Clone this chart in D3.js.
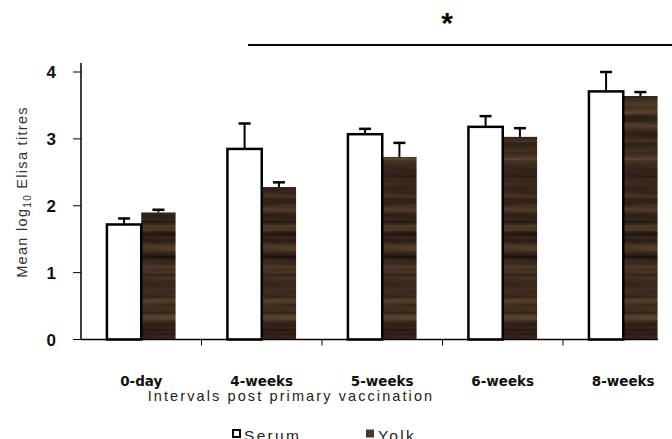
<!DOCTYPE html>
<html><head><meta charset="utf-8">
<script src="https://cdn.jsdelivr.net/npm/d3@7"></script>
<style>html,body{margin:0;padding:0;background:#fff;}svg{display:block;}</style>
</head><body>
<script>
const categories = ["0-day","4-weeks","5-weeks","6-weeks","8-weeks"];
const series = ["Serum","Yolk"];
const serumValues = [1.72, 2.85, 3.07, 3.18, 3.71];
const serumErrors = [0.09, 0.38, 0.08, 0.16, 0.29];
const yolkValues = [1.90, 2.28, 2.73, 3.03, 3.64];
const yolkErrors = [0.04, 0.07, 0.21, 0.13, 0.06];
const yTicks = [0,1,2,3,4];
const xTitle = "Intervals post primary vaccination";
const sigMark = "*";

const W = 672, H = 439;
const svg = d3.select("body").append("svg").attr("width", W).attr("height", H);

const defs = svg.append("defs");
const f = defs.append("filter").attr("id","wood").attr("filterUnits","userSpaceOnUse")
  .attr("color-interpolation-filters","sRGB")
  .attr("x",0).attr("y",0).attr("width",W).attr("height",H);
f.append("feTurbulence").attr("type","fractalNoise").attr("baseFrequency","0.004 0.12")
  .attr("numOctaves",3).attr("seed",11).attr("result","n");
f.append("feColorMatrix").attr("in","n").attr("type","matrix")
  .attr("values","0.38 0 0 0 0.05  0.34 0 0 0 0.0  0.22 0 0 0 0.01  0 0 0 0 1").attr("result","c");
f.append("feComposite").attr("in","c").attr("in2","SourceGraphic").attr("operator","in");

const x = d3.scaleBand().domain(categories).range([81, 683.5]).paddingInner(0).paddingOuter(0);
const xs = d3.scaleBand().domain(series).range([0, x.bandwidth()]).paddingInner(0).paddingOuter(0.755);
const y = d3.scaleLinear().domain([0,4]).range([339.5, 72]);

const data = categories.map((c,i)=>({c, vals:[
  {s:"Serum", v:serumValues[i], e:serumErrors[i]},
  {s:"Yolk", v:yolkValues[i], e:yolkErrors[i]}]}));

// significance bar
svg.append("line").attr("x1",248).attr("x2",W).attr("y1",45).attr("y2",45)
  .attr("stroke","#000").attr("stroke-width",2);
svg.append("text").attr("x",447).attr("y",33).attr("text-anchor","middle")
  .attr("font-family","Liberation Sans, Arial, sans-serif").attr("font-weight","bold")
  .attr("font-size",30).text(sigMark);

const g = svg.append("g");
const groups = g.selectAll("g.cat").data(data).join("g").attr("class","cat")
  .attr("transform", d=>`translate(${x(d.c)},0)`);

// error bars (upper only)
groups.selectAll("g.err").data(d=>d.vals).join("g").attr("class","err").each(function(d){
  const cx = xs(d.s) + xs.bandwidth()/2;
  const gg = d3.select(this);
  gg.append("line").attr("x1",cx).attr("x2",cx).attr("y1",y(d.v)).attr("y2",y(d.v+d.e))
    .attr("stroke","#000").attr("stroke-width",2);
  gg.append("line").attr("x1",cx-6).attr("x2",cx+6).attr("y1",y(d.v+d.e)).attr("y2",y(d.v+d.e))
    .attr("stroke","#000").attr("stroke-width",2.5);
});

groups.selectAll("rect.bar").data(d=>d.vals).join("rect").attr("class","bar")
  .attr("x", d=>xs(d.s))
  .attr("y", d=>y(d.v))
  .attr("width", xs.bandwidth())
  .attr("height", d=>y(0)-y(d.v))
  .attr("fill", d=>d.s==="Serum" ? "#fff" : "#3e2c20")
  .attr("filter", d=>d.s==="Yolk" ? "url(#wood)" : null);

groups.selectAll("rect.ol").data(d=>d.vals.filter(v=>v.s==="Serum")).join("rect").attr("class","ol")
  .attr("x", d=>xs(d.s)).attr("y", d=>y(d.v)).attr("width", xs.bandwidth())
  .attr("height", d=>y(0)-y(d.v)).attr("fill","none").attr("stroke","#000").attr("stroke-width",2.5);

// x axis
svg.append("line").attr("x1",81).attr("x2",658).attr("y1",y(0)).attr("y2",y(0))
  .attr("stroke","#000").attr("stroke-width",1.5);
const bounds = categories.slice(1).map(c=>x(c));
svg.selectAll("line.xt").data(bounds).join("line").attr("class","xt")
  .attr("x1",d=>d).attr("x2",d=>d).attr("y1",y(0)).attr("y2",y(0)+6)
  .attr("stroke","#000").attr("stroke-width",1);
svg.selectAll("text.xl").data(categories).join("text").attr("class","xl")
  .attr("x",d=>x(d)+x.bandwidth()/2).attr("y",386).attr("text-anchor","middle")
  .attr("font-family","DejaVu Sans, sans-serif").attr("font-weight","bold").attr("font-size",13.5)
  .attr("fill","#111").text(d=>d);
svg.append("text").attr("x",291).attr("y",400.5).attr("text-anchor","middle")
  .attr("font-family","Liberation Sans, Arial, sans-serif").attr("font-size",14.5).attr("fill","#222")
  .attr("letter-spacing",2.1).text(xTitle);

// y axis
svg.append("line").attr("x1",81).attr("x2",81).attr("y1",63).attr("y2",y(0))
  .attr("stroke","#000").attr("stroke-width",1.5);
svg.selectAll("line.yt").data(yTicks).join("line").attr("class","yt")
  .attr("x1",73).attr("x2",81).attr("y1",d=>y(d)).attr("y2",d=>y(d))
  .attr("stroke","#000").attr("stroke-width",1);
svg.selectAll("text.yl").data(yTicks).join("text").attr("class","yl")
  .attr("x",56).attr("y",d=>y(d)+6).attr("text-anchor","end")
  .attr("font-family","Liberation Sans, Arial, sans-serif").attr("font-weight","bold").attr("font-size",17)
  .attr("fill","#111").text(d=>d);

const yt = svg.append("text").attr("transform","translate(27,192) rotate(-90)").attr("text-anchor","middle")
  .attr("font-family","Liberation Sans, Arial, sans-serif").attr("font-size",14.5).attr("fill","#333")
  .attr("letter-spacing",1.3);
yt.append("tspan").text("Mean log");
yt.append("tspan").attr("font-size",10).attr("dy",4).text("10");
yt.append("tspan").attr("dy",-4).text(" Elisa titres");

// legend
const leg = [{s:"Serum", x:232, tx:244},{s:"Yolk", x:366, tx:378}];
const lg = svg.selectAll("g.leg").data(leg).join("g").attr("class","leg");
lg.append("rect").attr("x",d=>d.x+(d.s==="Serum"?1:0)).attr("y",d=>d.s==="Serum"?430:429.5)
  .attr("width",d=>d.s==="Serum"?7:8).attr("height",d=>d.s==="Serum"?7:8)
  .attr("fill",d=>d.s==="Serum"?"#fff":"#4a3a2e").attr("stroke",d=>d.s==="Serum"?"#000":"none").attr("stroke-width",2);
lg.append("text").attr("x",d=>d.tx).attr("y",440.5)
  .attr("font-family","Liberation Sans, Arial, sans-serif").attr("font-size",15.5).attr("fill","#222")
  .attr("letter-spacing",2.3).text(d=>d.s);
</script>
</body></html>
